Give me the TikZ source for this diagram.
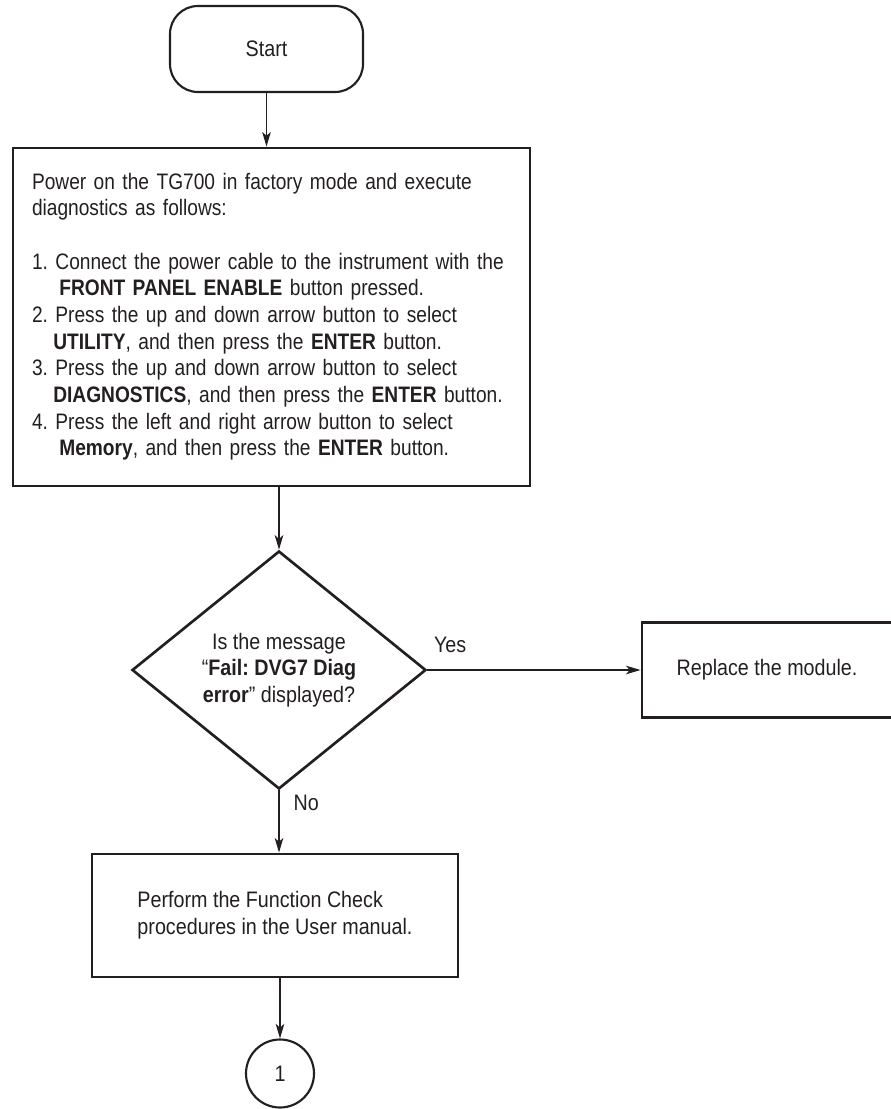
\documentclass[tikz,border=0pt]{standalone}
\usepackage{fontspec}
\setmainfont{Liberation Sans}[FakeStretch=0.88]
\newfontfamily\narrowfont{Liberation Sans}[FakeStretch=0.855]
\usepackage{tikz}
\usetikzlibrary{arrows.meta,shapes.geometric}
\definecolor{ink}{HTML}{231F20}
\newcommand{\ind}{\hspace*{16pt}}
\tikzset{
  fcText/.style={font=\fontsize{16.8}{20}\selectfont\frenchspacing,text=ink},
  fcBox/.style={fcText,draw=ink,line width=2.2pt,rectangle,inner sep=0pt},
  fcStart/.style={fcText,draw=ink,line width=1.6pt,rectangle,rounded corners=21pt,
        minimum width=144.75pt,minimum height=64.5pt,inner sep=0pt},
  fcDecision/.style={fcText,draw=ink,line width=2pt,diamond,align=center,
        minimum width=220.5pt,minimum height=178.5pt,inner sep=0pt},
  fcConn/.style={fcText,draw=ink,line width=1.6pt,circle,minimum size=51pt,
        inner sep=0pt},
  fcArrow/.style={draw=ink,line width=.8pt,
        -{Stealth[length=11pt,width=6.5pt,inset=3pt]}},
  fcLabel/.style={fcText,inner sep=2pt},
}

\begin{document}
\begin{tikzpicture}[x=.75pt,y=-.75pt]
\useasboundingbox (0,0) rectangle (890,1109);
\node[fcStart] (start) at (266.5,49) {Start};
\node[fcBox,align=left,text width=359.25pt,inner xsep=14.25pt,
      minimum height=253.5pt] (task) at (271.5,317) {\narrowfont
\begin{tabular}{@{}l@{}}
Power on the TG700 in factory mode and execute\\
diagnostics as follows:\\[20pt]
1. Connect the power cable to the instrument with the\\
\ind\hspace*{4.5pt}\textbf{FRONT PANEL ENABLE} button pressed.\\
2. Press the up and down arrow button to select\\
\ind\textbf{UTILITY}, and then press the \textbf{ENTER} button.\\
3. Press the up and down arrow button to select\\
\ind\textbf{DIAGNOSTICS}, and then press the \textbf{ENTER} button.\\
4. Press the left and right arrow button to select\\
\ind\hspace*{4.5pt}\textbf{Memory}, and then press the \textbf{ENTER} button.
\end{tabular}};
\node[fcDecision] (dia) at (279,670) {Is the message\\
“\textbf{Fail: DVG7 Diag}\\\textbf{error}” displayed?};
\node[fcBox,minimum width=187.5pt,minimum height=71.25pt] (rep) at (767,670)
      {Replace the module.};
\node[fcBox,align=left,minimum width=274.5pt,minimum height=92.25pt] (fc)
      at (275,915.5) {Perform the Function Check\\procedures in the User manual.};
\node[fcConn] (conn) at (280,1073.5) {1};
\draw[fcArrow] (start.south) -- (start.south |- task.north);
\draw[fcArrow] (dia.north |- task.south) -- (dia.north);
\draw[fcArrow] (dia) -- node[fcLabel,pos=.107,above=10.75pt] {Yes} (rep);
\draw[fcArrow] (dia.south) -- node[fcLabel,pos=.2,right=8.5pt] {No}
      (dia.south |- fc.north);
\draw[fcArrow] (conn.north |- fc.south) -- (conn.north);
\end{tikzpicture}
\end{document}
